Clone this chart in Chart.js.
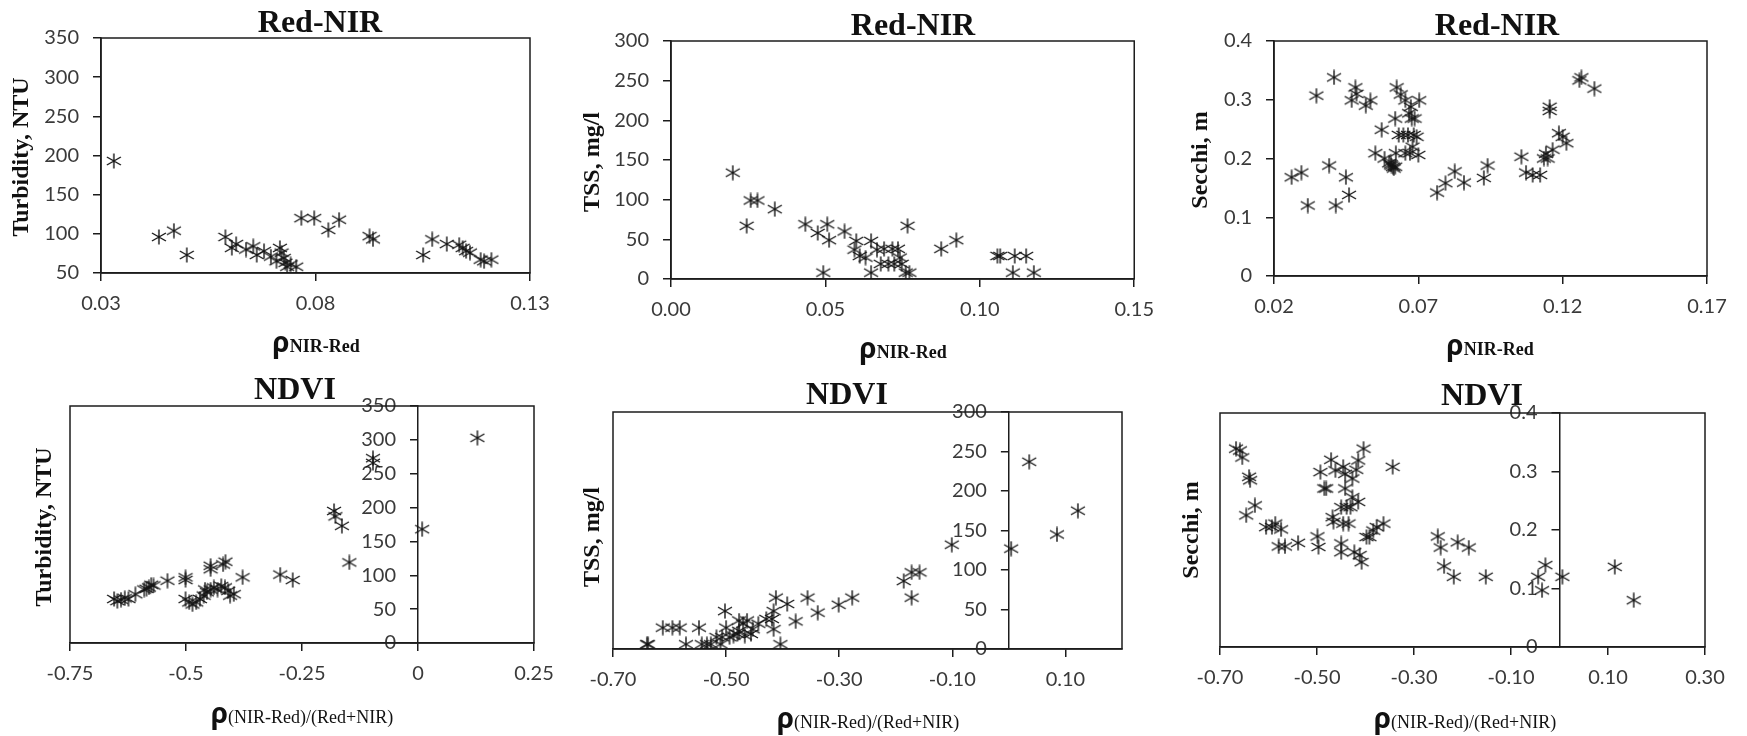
<!DOCTYPE html>
<html><head><meta charset="utf-8">
<script src="https://cdn.jsdelivr.net/npm/chart.js@4/dist/chart.umd.min.js"></script>
<style>
html,body{margin:0;padding:0;background:#fff;}
#wrap{position:relative;width:1747px;height:736px;overflow:hidden;background:#fff;}
</style></head>
<body><div id="wrap"></div>
<script>
// ---------- DATA ----------
// Panel 1: Red-NIR vs Turbidity
const p1X = [0.033,0.0435,0.047,0.050,0.059,0.0605,0.0615,0.0638,0.0655,0.0663,0.068,0.0696,0.0709,0.0717,0.0721,0.0726,0.073,0.0734,0.0742,0.0755,0.0767,0.0797,0.083,0.0855,0.0926,0.0934,0.1051,0.1072,0.1106,0.1135,0.1143,0.1151,0.116,0.1185,0.1193,0.121];
const p1Y = [193,96,104,73,96,82,87,80,84,73,78,71,65,82,76,69,63,58,61,58,120,120,105,118,97,93,73,93,87,86,82,78,76,67,65,67];
const p1XTicks = [0.03,0.08,0.13];
const p1XLabels = ['0.03','0.08','0.13'];
const p1YTicks = [50,100,150,200,250,300,350];
const p1YLabels = ['50','100','150','200','250','300','350'];

// Panel 2: Red-NIR vs TSS
const p2X = [0.020,0.0245,0.0258,0.028,0.0336,0.0435,0.0475,0.0506,0.0512,0.0493,0.0562,0.060,0.0594,0.0611,0.063,0.0648,0.0648,0.0667,0.0679,0.069,0.0704,0.0717,0.0723,0.0735,0.0741,0.0747,0.076,0.0766,0.0772,0.0875,0.0924,0.1057,0.1066,0.1107,0.1113,0.115,0.1175];
const p2Y = [134,67,99,99,88,69,58,69,49,8,60,48,37,29,27,48,8,37,19,38,19,38,19,38,27,19,8,67,8,38,49,29,29,8,29,29,8];
const p2XTicks = [0,0.05,0.10,0.15];
const p2XLabels = ['0.00','0.05','0.10','0.15'];
const p2YTicks = [0,50,100,150,200,250,300];
const p2YLabels = ['0','50','100','150','200','250','300'];

// Panel 3: Red-NIR vs Secchi
const p3X = [0.0261,0.0295,0.0317,0.0347,0.0391,0.0408,0.0414,0.0449,0.046,0.0469,0.0482,0.0486,0.0518,0.0534,0.0551,0.0573,0.0583,0.0599,0.0607,0.0612,0.062,0.062,0.0622,0.0625,0.0632,0.0639,0.0648,0.0655,0.0655,0.0664,0.0668,0.0671,0.0674,0.0677,0.068,0.0684,0.0687,0.0694,0.0703,0.07,0.0765,0.0794,0.0826,0.0858,0.0927,0.094,0.1057,0.1073,0.1096,0.1122,0.1135,0.1142,0.1148,0.1155,0.1155,0.1165,0.1187,0.12,0.1213,0.1258,0.1265,0.131,0.0605,0.0615];
const p3Y = [0.168,0.176,0.120,0.307,0.188,0.338,0.120,0.168,0.138,0.299,0.321,0.31,0.29,0.299,0.209,0.249,0.2,0.192,0.188,0.186,0.186,0.268,0.209,0.321,0.240,0.309,0.240,0.299,0.209,0.240,0.277,0.209,0.288,0.268,0.220,0.240,0.268,0.237,0.299,0.206,0.142,0.158,0.178,0.159,0.167,0.188,0.203,0.176,0.172,0.172,0.2,0.208,0.2,0.288,0.281,0.215,0.243,0.237,0.226,0.333,0.338,0.319,0.19,0.183];
const p3XTicks = [0.02,0.07,0.12,0.17];
const p3XLabels = ['0.02','0.07','0.12','0.17'];
const p3YTicks = [0,0.1,0.2,0.3,0.4];
const p3YLabels = ['0','0.1','0.2','0.3','0.4'];

// Panel 4: NDVI vs Turbidity
const p4X = [0.128,-0.097,-0.097,-0.181,-0.178,-0.164,0.009,-0.148,-0.297,-0.270,-0.378,-0.415,-0.420,-0.447,-0.447,-0.501,-0.501,-0.540,-0.570,-0.580,-0.590,-0.609,-0.624,-0.640,-0.648,-0.501,-0.493,-0.486,-0.478,-0.470,-0.462,-0.459,-0.455,-0.447,-0.440,-0.432,-0.424,-0.416,-0.409,-0.405,-0.397,-0.585,-0.575,-0.632,-0.655];
const p4Y = [303,273,266,195,187,173,168,119,101,93,97,120,116,114,109,97,93,92,85,82,79,72,65,64,62,65,60,57,60,65,70,79,75,79,82,79,84,82,77,70,72,80,86,66,65];
const p4XTicks = [-0.75,-0.5,-0.25,0,0.25];
const p4XLabels = ['-0.75','-0.5','-0.25','0','0.25'];
const p4YTicks = [0,50,100,150,200,250,300,350];
const p4YLabels = ['0','50','100','150','200','250','300','350'];

// Panel 5: NDVI vs TSS
const p5X = [0.036,0.122,0.085,0.004,-0.101,-0.186,-0.172,-0.158,-0.172,-0.277,-0.301,-0.338,-0.356,-0.377,-0.392,-0.412,-0.416,-0.419,-0.416,-0.404,-0.429,-0.443,-0.453,-0.463,-0.470,-0.477,-0.480,-0.487,-0.494,-0.500,-0.502,-0.507,-0.510,-0.517,-0.527,-0.534,-0.548,-0.543,-0.571,-0.582,-0.595,-0.612,-0.638,-0.640,-0.477,-0.467,-0.456];
const p5Y = [237,175,145,127,132,86,97,97,65,65,56,46,65,35,57,65,48,38,25,6,38,32,25,36,32,36,19,17,15,27,48,15,6,15,6,6,27,6,6,27,27,27,6,6,23,17,19];
const p5XTicks = [-0.7,-0.5,-0.3,-0.1,0.1];
const p5XLabels = ['-0.70','-0.50','-0.30','-0.10','0.10'];
const p5YTicks = [0,50,100,150,200,250,300];
const p5YLabels = ['0','50','100','150','200','250','300'];

// Panel 6: NDVI vs Secchi
const p6X = [-0.667,-0.659,-0.654,-0.640,-0.638,-0.628,-0.646,-0.605,-0.593,-0.586,-0.574,-0.579,-0.566,-0.539,-0.499,-0.497,-0.493,-0.485,-0.481,-0.471,-0.468,-0.466,-0.462,-0.450,-0.450,-0.446,-0.442,-0.442,-0.450,-0.446,-0.439,-0.435,-0.431,-0.427,-0.427,-0.423,-0.419,-0.415,-0.415,-0.412,-0.408,-0.404,-0.398,-0.392,-0.384,-0.377,-0.363,-0.344,-0.251,-0.245,-0.238,-0.218,-0.210,-0.187,-0.152,-0.044,-0.036,-0.029,0.006,0.114,0.153];
const p6Y = [0.339,0.336,0.324,0.291,0.285,0.242,0.225,0.205,0.205,0.211,0.201,0.172,0.172,0.178,0.189,0.171,0.299,0.271,0.271,0.320,0.222,0.214,0.302,0.177,0.162,0.308,0.296,0.271,0.239,0.211,0.239,0.211,0.239,0.256,0.288,0.162,0.303,0.319,0.248,0.157,0.145,0.339,0.188,0.188,0.199,0.205,0.211,0.308,0.189,0.170,0.138,0.120,0.179,0.170,0.120,0.120,0.097,0.140,0.120,0.137,0.080];
const p6XTicks = [-0.7,-0.5,-0.3,-0.1,0.1,0.3];
const p6XLabels = ['-0.70','-0.50','-0.30','-0.10','0.10','0.30'];
const p6YTicks = [0,0.1,0.2,0.3,0.4];
const p6YLabels = ['0','0.1','0.2','0.3','0.4'];

// Texts
const titleTop = 'Red-NIR';
const titleBottom = 'NDVI';
const yTitles = ['Turbidity, NTU','TSS, mg/l','Secchi, m'];
const xRho = 'ρ';
const xSubTop = 'NIR-Red';
const xSubBottom = '(NIR-Red)/(Red+NIR)';

// ---------- LAYOUT ----------
const INK = '#1c1c1c';
const TICKCOL = '#3a3a3a';
const panels = [
  {box:[0,0,575,368], frame:[101,38,530,273], xs:p1X, ys:p1Y, xr:[0.03,0.13], yr:[50,350], xt:p1XTicks, xl:p1XLabels, yt:p1YTicks, yl:p1YLabels, cross:false,
   title:titleTop, tp:[320,24], yTitle:yTitles[0], ytp:[22,157], xSub:xSubTop, xtp:[316,347]},
  {box:[575,0,590,368], frame:[671,41,1135,279], xs:p2X, ys:p2Y, xr:[0,0.15], yr:[0,300], xt:p2XTicks, xl:p2XLabels, yt:p2YTicks, yl:p2YLabels, cross:false,
   title:titleTop, tp:[913,27], yTitle:yTitles[1], ytp:[593,162], xSub:xSubTop, xtp:[903,353]},
  {box:[1165,0,582,368], frame:[1274,41,1707,276], xs:p3X, ys:p3Y, xr:[0.02,0.17], yr:[0,0.4], xt:p3XTicks, xl:p3XLabels, yt:p3YTicks, yl:p3YLabels, cross:false,
   title:titleTop, tp:[1497,27], yTitle:yTitles[2], ytp:[1201,160], xSub:xSubTop, xtp:[1490,350]},
  {box:[0,368,575,368], frame:[70,406,534,643], xs:p4X, ys:p4Y, xr:[-0.75,0.25], yr:[0,350], xt:p4XTicks, xl:p4XLabels, yt:p4YTicks, yl:p4YLabels, cross:true,
   title:titleBottom, tp:[295,391], yTitle:yTitles[0], ytp:[45,527], xSub:xSubBottom, xtp:[302,718]},
  {box:[575,368,590,368], frame:[613,412,1122,649], xs:p5X, ys:p5Y, xr:[-0.7,0.2], yr:[0,300], xt:p5XTicks, xl:p5XLabels, yt:p5YTicks, yl:p5YLabels, cross:true,
   title:titleBottom, tp:[847,396], yTitle:yTitles[1], ytp:[593,537], xSub:xSubBottom, xtp:[868,723]},
  {box:[1165,368,582,368], frame:[1220,413,1705,647], xs:p6X, ys:p6Y, xr:[-0.7,0.3], yr:[0,0.4], xt:p6XTicks, xl:p6XLabels, yt:p6YTicks, yl:p6YLabels, cross:true,
   title:titleBottom, tp:[1482,397], yTitle:yTitles[2], ytp:[1192,530], xSub:xSubBottom, xtp:[1465,723]}
];

const STAR = (() => {
  const c = document.createElement('canvas'); c.width = 16; c.height = 16;
  const g = c.getContext('2d'); g.strokeStyle = '#151515'; g.lineWidth = 1.4;
  g.beginPath();
  g.moveTo(8,0.5); g.lineTo(8,15.5);
  g.moveTo(1,4); g.lineTo(15,12);
  g.moveTo(1,12); g.lineTo(15,4);
  g.stroke();
  return c;
})();

const tickFont = {family:'Lato, "Open Sans", sans-serif', size:20};
const wrap = document.getElementById('wrap');

panels.forEach(p => {
  const [bx,by,bw,bh] = p.box;
  const [L,T,R,B] = p.frame;
  const leftW = L - bx, botH = by + bh - B;
  const cv = document.createElement('canvas');
  cv.width = bw; cv.height = bh;
  cv.style.cssText = `position:absolute;left:${bx}px;top:${by}px;width:${bw}px;height:${bh}px`;
  wrap.appendChild(cv);

  const deco = {
    id: 'deco',
    afterLayout(chart) {
      if (p.cross) {
        const y = chart.scales.y;
        const px = chart.scales.x.getPixelForValue(0);
        y.left = px - 90; y.right = px;
      }
    },
    beforeDatasetsDraw(chart) {
      const a = chart.chartArea, ctx = chart.ctx;
      ctx.save(); ctx.strokeStyle = INK; ctx.lineWidth = 1.5;
      ctx.strokeRect(a.left, a.top, a.right - a.left, a.bottom - a.top);
      ctx.restore();
    },
    afterDraw(chart) {
      const ctx = chart.ctx;
      ctx.save();
      ctx.fillStyle = '#111';
      ctx.textAlign = 'center'; ctx.textBaseline = 'middle';
      ctx.font = 'bold 32px "Liberation Serif", "Times New Roman", serif';
      ctx.fillText(p.title, p.tp[0]-bx, p.tp[1]-by);
      // y title
      ctx.save();
      ctx.translate(p.ytp[0]-bx, p.ytp[1]-by);
      ctx.rotate(-Math.PI/2);
      ctx.font = 'bold 24px "Liberation Serif", "Times New Roman", serif';
      ctx.fillText(p.yTitle, 0, 0);
      ctx.restore();
      // x title: rho + subscript text
      const rhoFont = 'bold 28px "Noto Sans", "DejaVu Sans", sans-serif';
      const subFont = p.cross ? '18px "Liberation Serif", serif' : 'bold 18px "Liberation Serif", serif';
      ctx.font = rhoFont; const w1 = ctx.measureText(xRho).width;
      ctx.font = subFont; const w2 = ctx.measureText(p.xSub).width;
      const x0 = p.xtp[0]-bx - (w1+w2)/2;
      const base = p.xtp[1]-by + 5;
      ctx.textAlign = 'left'; ctx.textBaseline = 'alphabetic';
      ctx.font = rhoFont; ctx.fillText(xRho, x0, base);
      ctx.font = subFont; ctx.fillText(p.xSub, x0 + w1, base);
      ctx.restore();
    }
  };

  const gridOpt = {display:true, drawOnChartArea:false, drawTicks:true, tickLength:8, tickColor:INK, tickWidth:1.5, color:INK, lineWidth:1.5};
  new Chart(cv, {
    type: 'scatter',
    data: {datasets: [{
      data: p.xs.map((v,i) => ({x:v, y:p.ys[i]})),
      pointStyle: STAR, pointRadius: 7, pointHoverRadius: 7,
      borderColor: '#151515', backgroundColor: '#151515', showLine: false
    }]},
    options: {
      responsive: false, animation: false, devicePixelRatio: 1,
      events: [],
      layout: {padding: {left: 0, top: T-by, right: bx+bw-R, bottom: 0}},
      plugins: {legend:{display:false}, tooltip:{enabled:false}, title:{display:false}},
      scales: {
        x: {
          type:'linear', position:'bottom', min:p.xr[0], max:p.xr[1],
          afterFit: s => { s.height = botH; },
          afterBuildTicks: s => { s.ticks = p.xt.map(v => ({value:v})); },
          ticks: {autoSkip:false, maxRotation:0, minRotation:0, padding:11, color:TICKCOL, font:tickFont,
                  callback: (v,i) => p.xl[i]},
          grid: gridOpt,
          border: {display:true, color:INK, width:1.5}
        },
        y: {
          type:'linear', position:'left', min:p.yr[0], max:p.yr[1],
          afterFit: s => { s.width = leftW; },
          afterBuildTicks: s => { s.ticks = p.yt.map(v => ({value:v})); },
          ticks: {autoSkip:false, padding:14, color:TICKCOL, font:tickFont,
                  callback: (v,i) => p.yl[i]},
          grid: gridOpt,
          border: {display:true, color:INK, width:1.5}
        }
      }
    },
    plugins: [deco]
  });
});
</script>
</body></html>
